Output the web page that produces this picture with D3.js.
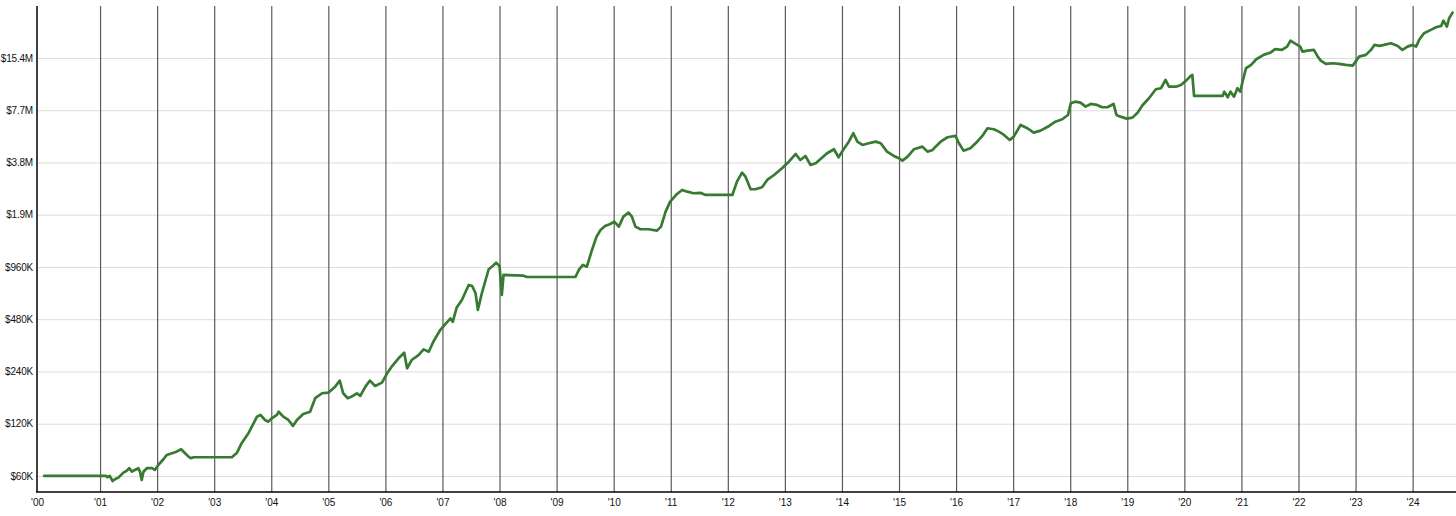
<!DOCTYPE html>
<html><head><meta charset="utf-8">
<script src="https://cdn.jsdelivr.net/npm/d3@7"></script>
<style>
html,body{margin:0;padding:0;background:#fff;}
svg{display:block;}
text{font-family:"Liberation Sans",Arial,sans-serif;font-size:10px;fill:#111;}
</style></head>
<body>
<svg id="chart" width="1456" height="516"></svg>
<script>
// ---- data (decimal year, account value in $) ----
const years = [
2000.02,2001.10,2001.13,2001.17,2001.22,2001.26,2001.32,2001.41,2001.47,2001.51,
2001.56,2001.61,2001.67,2001.70,2001.73,2001.76,2001.82,2001.91,2001.96,2002.02,
2002.11,2002.17,2002.26,2002.34,2002.42,2002.49,2002.55,2002.59,2002.64,2003.31,
2003.40,2003.48,2003.60,2003.66,2003.75,2003.81,2003.89,2003.95,2004.01,2004.10,
2004.13,2004.21,2004.30,2004.38,2004.45,2004.56,2004.68,2004.77,2004.89,2005.00,
2005.12,2005.20,2005.26,2005.34,2005.41,2005.50,2005.56,2005.65,2005.73,2005.82,
2005.94,2006.03,2006.11,2006.23,2006.33,2006.38,2006.46,2006.58,2006.67,2006.76,
2006.84,2006.96,2007.05,2007.14,2007.18,2007.25,2007.34,2007.46,2007.52,2007.58,
2007.62,2007.69,2007.81,2007.90,2007.94,2008.00,2008.04,2008.07,2008.42,2008.48,
2009.33,2009.39,2009.46,2009.53,2009.62,2009.70,2009.77,2009.85,2009.94,2010.01,
2010.09,2010.17,2010.26,2010.32,2010.38,2010.47,2010.61,2010.76,2010.83,2010.91,
2010.99,2011.11,2011.20,2011.29,2011.40,2011.52,2011.61,2012.08,2012.16,2012.25,
2012.31,2012.40,2012.48,2012.60,2012.69,2012.81,2012.95,2013.07,2013.19,2013.27,
2013.36,2013.45,2013.54,2013.62,2013.74,2013.86,2013.94,2014.03,2014.12,2014.20,
2014.27,2014.36,2014.47,2014.59,2014.68,2014.79,2014.91,2015.00,2015.06,2015.15,
2015.26,2015.41,2015.50,2015.59,2015.64,2015.73,2015.85,2015.99,2016.05,2016.13,
2016.25,2016.37,2016.46,2016.55,2016.66,2016.75,2016.84,2016.94,2017.01,2017.13,
2017.25,2017.36,2017.48,2017.63,2017.74,2017.86,2017.96,2018.01,2018.09,2018.18,
2018.27,2018.36,2018.47,2018.56,2018.65,2018.76,2018.81,2018.88,2018.99,2019.09,
2019.18,2019.27,2019.38,2019.50,2019.59,2019.67,2019.73,2019.85,2019.94,2020.03,
2020.11,2020.14,2020.17,2020.67,2020.70,2020.76,2020.81,2020.87,2020.93,2020.98,
2021.02,2021.08,2021.17,2021.26,2021.39,2021.51,2021.59,2021.71,2021.80,2021.86,
2021.95,2022.03,2022.07,2022.16,2022.27,2022.33,2022.39,2022.48,2022.60,2022.71,
2022.83,2022.95,2023.00,2023.06,2023.18,2023.27,2023.33,2023.42,2023.50,2023.62,
2023.74,2023.82,2023.91,2024.00,2024.06,2024.12,2024.20,2024.32,2024.41,2024.50,
2024.54,2024.60,2024.64,2024.70
];
const values = [
60000,60000,59000,60000,56100,57400,58700,62700,64400,66500,
63500,65000,66500,63500,56900,63500,66500,66500,65000,69400,
74900,79300,81100,82800,85500,81100,77500,75900,76900,76900,
81700,92600,105800,115500,131800,134800,126100,123300,129000,134800,
140700,131800,126100,116500,126100,136600,140700,168300,179700,181200,
196200,212700,179700,168300,171900,179700,173500,196200,212700,198000,
206900,234100,255700,285700,307600,250300,279300,298200,321800,311700,
356100,415900,450100,485200,463800,561000,619700,756200,746200,677300,
542800,677300,931200,985800,1016400,972600,662200,863400,855000,840000,
840000,922500,985800,963900,1203000,1435000,1568600,1654000,1698000,1751000,
1639000,1871000,1973000,1871000,1639000,1583000,1583000,1554000,1639000,1999000,
2283000,2528000,2666000,2606000,2552000,2568000,2495000,2495000,2976000,3353000,
3180000,2691000,2691000,2764000,3044000,3251000,3554000,3880000,4298000,3968000,
4185000,3713000,3799000,4006000,4338000,4575000,4114000,4575000,5060000,5657000,
5060000,4843000,4954000,5060000,4954000,4432000,4185000,4059000,3932000,4147000,
4575000,4735000,4432000,4533000,4735000,5060000,5365000,5458000,4954000,4491000,
4636000,5060000,5458000,6045000,5965000,5779000,5531000,5176000,5408000,6316000,
6045000,5702000,5856000,6232000,6598000,6811000,7211000,8422000,8603000,8490000,
8051000,8345000,8234000,7987000,7987000,8345000,7211000,7050000,6866000,6958000,
7434000,8234000,9000000,10140000,10274000,11470000,10494000,10494000,10734000,11370000,
12098000,12259000,9280000,9280000,9823000,9120000,9823000,9193000,10274000,9823000,
11219000,13398000,13998000,15096000,15996000,16494000,17256000,17094000,17856000,19338000,
18510000,17856000,16716000,16938000,17094000,15774000,14820000,14184000,14316000,14184000,
13998000,13872000,14628000,15630000,15996000,17094000,18264000,18024000,18264000,18684000,
18024000,17094000,17856000,18264000,17856000,19698000,21330000,22284000,23094000,23496000,
25194000,23280000,26010000,28014000
];
// ---- axis ticks ----
const xTickYears = [1999.895,2001,2002,2003,2004,2005,2006,2007,2008,2009,2010,2011,2012,
  2013,2014,2015,2016,2017,2018,2019,2020,2021,2022,2023,2024];
const xTickLabels = ["'00","'01","'02","'03","'04","'05","'06","'07","'08","'09","'10","'11","'12",
  "'13","'14","'15","'16","'17","'18","'19","'20","'21","'22","'23","'24"];
const yTickValues = [60000,120000,240000,480000,960000,1920000,3840000,7680000,15360000];
const yTickLabels = ["$60K","$120K","$240K","$480K","$960K","$1.9M","$3.8M","$7.7M","$15.4M"];

const data = years.map((t,i)=>({t, v: values[i]}));

const svg = d3.select("#chart");
const mL = 37, mR = 1456, mT = 6, mB = 492;

const x = d3.scaleLinear().domain([1999.895, 2024.76]).range([mL, mR]);
const y = d3.scaleLog().domain([48500, 30600000]).range([mB, mT]);

// horizontal gridlines
svg.append("g")
  .attr("transform", `translate(${mL},0)`)
  .call(d3.axisLeft(y).tickValues(yTickValues).tickSize(-(mR-mL)).tickFormat(""))
  .call(g=>g.select(".domain").remove())
  .call(g=>g.selectAll(".tick line").attr("stroke","#dcdcdc").attr("stroke-width",1));

// vertical gridlines
svg.append("g")
  .attr("transform", `translate(0,${mB})`)
  .call(d3.axisBottom(x).tickValues(xTickYears.slice(1)).tickSize(-(mB-mT)).tickFormat(""))
  .call(g=>g.select(".domain").remove())
  .call(g=>g.selectAll(".tick line").attr("stroke","#5a5a5a").attr("stroke-width",1.2));

// line
svg.append("path")
  .datum(data)
  .attr("fill","none")
  .attr("stroke","#377a31")
  .attr("stroke-width",2.7)
  .attr("stroke-linejoin","round")
  .attr("stroke-linecap","round")
  .attr("d", d3.line().x(d=>x(d.t)).y(d=>y(d.v)));

// y axis
const yAxis = svg.append("g")
  .attr("transform", `translate(${mL},0)`)
  .call(d3.axisLeft(y).tickValues(yTickValues).tickSize(0).tickPadding(4)
    .tickFormat((d,i)=>yTickLabels[i]));
yAxis.select(".domain").remove();
yAxis.selectAll("text")
  .style("font-family","'Liberation Sans',Arial,sans-serif")
  .style("font-size","10px").style("letter-spacing","-0.2px").attr("fill","#111");
svg.append("line").attr("x1",mL).attr("x2",mL).attr("y1",mT).attr("y2",mB)
  .attr("stroke","#000").attr("stroke-width",1.5);

// x axis
const xAxis = svg.append("g")
  .attr("transform", `translate(0,${mB})`)
  .call(d3.axisBottom(x).tickValues(xTickYears).tickSize(0).tickPadding(7)
    .tickFormat((d,i)=>xTickLabels[i]));
xAxis.select(".domain").remove();
xAxis.selectAll("text")
  .style("font-family","'Liberation Sans',Arial,sans-serif")
  .style("font-size","10px").attr("fill","#111");
svg.append("line").attr("x1",mL-1).attr("x2",mR).attr("y1",mB).attr("y2",mB)
  .attr("stroke","#000").attr("stroke-width",1.5);
</script>
</body></html>
